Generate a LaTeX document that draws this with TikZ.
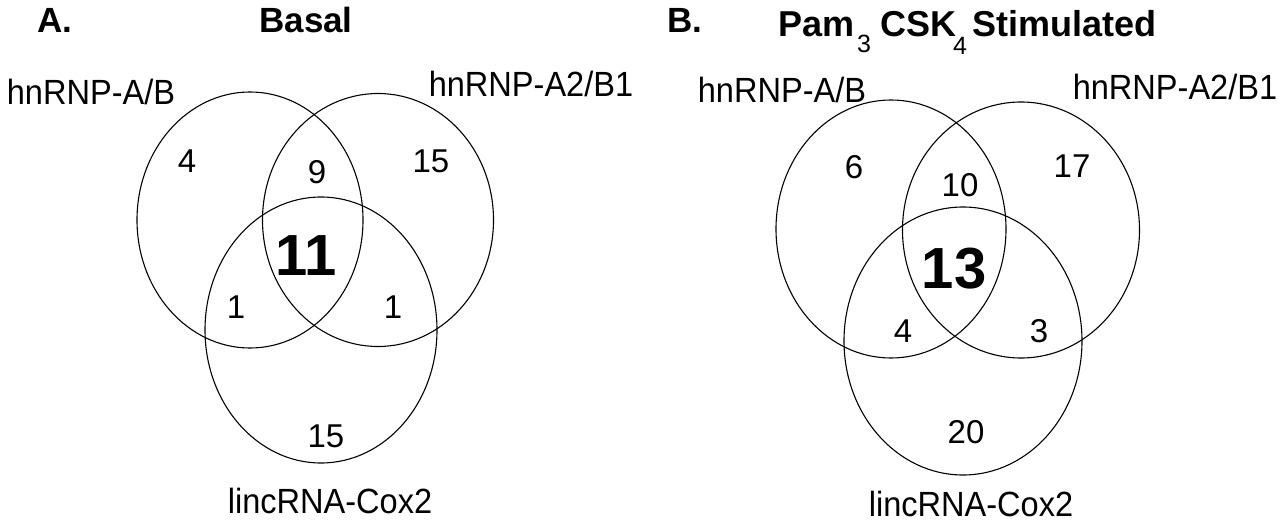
\documentclass[tikz,border=0pt]{standalone}
\usepackage{fontspec}
\setmainfont{Liberation Sans}
\newfontfamily\narrowsans[FakeStretch=0.93]{Liberation Sans}
\usetikzlibrary{shapes.geometric}

\begin{document}
\begin{tikzpicture}[
  x=1pt, y=-1pt,
  set/.style={ellipse, draw, line width=1.1pt, inner sep=0pt, outer sep=0pt},
  tag/.style={anchor=base, inner sep=0pt, font=\narrowsans\fontsize{35}{42}\selectfont},
  count/.style={inner sep=0pt, font=\fontsize{33}{40}\selectfont},
  core/.style={inner sep=0pt, font=\fontsize{58}{70}\selectfont\bfseries},
  head/.style={anchor=base west, inner sep=0pt, font=\fontsize{35}{42}\selectfont\bfseries},
  sub/.style={anchor=base west, inner sep=0pt, font=\fontsize{25}{30}\selectfont}
]
  \useasboundingbox (0,0) rectangle (1280,524);

  % A. Basal
  \node[set, minimum width=226pt, minimum height=256pt] (abA) at (250,220) {};
  \node[set, minimum width=231pt, minimum height=253pt] (abB) at (378,220) {};
  \node[set, minimum width=232pt, minimum height=266pt] (coxA) at (321,330) {};
  \node[head] (panA) at (37,33) {A.};
  \node[head, anchor=base] (basal) at (306,33) {Basal};
  \node[tag] (labA1) at (91,105) {hnRNP-A/B};
  \node[tag] (labA2) at (531,97) {hnRNP-A2/B1};
  \node[tag] (labA3) at (330,513) {lincRNA-Cox2};
  \node[count] (nA1) at (187,161) {4};
  \node[count] (nA2) at (317,172) {9};
  \node[count] (nA3) at (431,161) {15};
  \node[core]  (nA4) at (306,256) {11};
  \node[count] (nA5) at (236,307) {1};
  \node[count] (nA6) at (393,307) {1};
  \node[count] (nA7) at (326,436) {15};

  % B. Pam3CSK4 stimulated
  \node[set, minimum width=230pt, minimum height=258pt] (abC) at (891,229) {};
  \node[set, minimum width=237pt, minimum height=256pt] (abD) at (1021,230) {};
  \node[set, minimum width=238pt, minimum height=268pt] (coxB) at (963,341) {};
  \node[head] (panB) at (667,33) {B.};
  \node[head, font=\fontsize{36}{43}\selectfont\bfseries] (pam) at (778,37) {Pam};
  \node[sub]  (pam3) at (857,53) {3};
  \node[head, font=\fontsize{36}{43}\selectfont\bfseries] (csk) at (880,37) {CSK};
  \node[sub]  (csk4) at (953,55) {4};
  \node[head, font=\fontsize{36}{43}\selectfont\bfseries] (stim) at (972,37) {Stimulated};
  \node[tag] (labB1) at (782,103) {hnRNP-A/B};
  \node[tag] (labB2) at (1175,100) {hnRNP-A2/B1};
  \node[tag] (labB3) at (971,516) {lincRNA-Cox2};
  \node[count] (nB1) at (854,167) {6};
  \node[count] (nB2) at (960,185) {10};
  \node[count] (nB3) at (1072,166) {17};
  \node[core]  (nB4) at (954,269) {13};
  \node[count] (nB5) at (903,331) {4};
  \node[count] (nB6) at (1039,331) {3};
  \node[count] (nB7) at (966,432) {20};
\end{tikzpicture}
\end{document}
